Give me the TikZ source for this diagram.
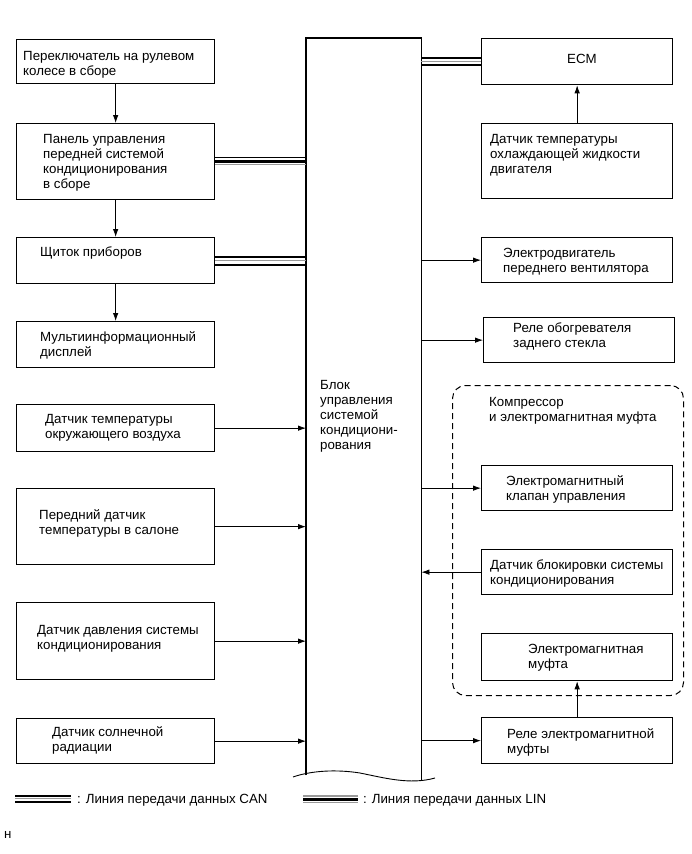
\documentclass[tikz,border=0pt]{standalone}
\usepackage{fontspec}
\setmainfont{Liberation Sans}
\usetikzlibrary{arrows.meta}
\begin{document}
\begin{tikzpicture}[x=1pt,y=-1pt,
  box/.style={draw, line width=1.3pt, inner sep=0pt, anchor=north west},
  txt/.style={inner sep=0pt, anchor=north west, align=left, font=\fontsize{13.3}{15}\selectfont},
  arr/.style={line width=0.8pt, -{Latex[length=8pt,width=5.5pt]}},
  canblack/.style={line width=1.8pt, black},
  cangray/.style={line width=1.1pt, black!40}]
\useasboundingbox (0,0) rectangle (691,854);
% left column
\node[box, minimum width=198pt, minimum height=44pt] (b1) at (16,39) {};
\node[txt] (t1) at (23,49.5) {\strut Переключатель на рулевом\\колесе в сборе};
\node[box, minimum width=198pt, minimum height=76pt] (b2) at (16,123) {};
\node[txt] (t2) at (43,132.5) {\strut Панель управления\\передней системой\\кондиционирования\\в сборе};
\node[box, minimum width=198pt, minimum height=46pt] (b3) at (16,237) {};
\node[txt] (t3) at (40,246) {\strut Щиток приборов};
\node[box, minimum width=198pt, minimum height=46pt] (b4) at (16,321) {};
\node[txt] (t4) at (40,330.5) {\strut Мультиинформационный\\дисплей};
\node[box, minimum width=198pt, minimum height=47pt] (b5) at (16,404) {};
\node[txt] (t5) at (45,412.5) {\strut Датчик температуры\\окружающего воздуха};
\node[box, minimum width=198pt, minimum height=76pt] (b6) at (16,488) {};
\node[txt] (t6) at (39,508.5) {\strut Передний датчик\\температуры в салоне};
\node[box, minimum width=198pt, minimum height=77pt] (b7) at (16,602) {};
\node[txt] (t7) at (37,623.5) {\strut Датчик давления системы\\кондиционирования};
\node[box, minimum width=198pt, minimum height=45pt] (b8) at (16,718) {};
\node[txt] (t8) at (52,725.5) {\strut Датчик солнечной\\радиации};
% central block
\node[inner sep=0pt, anchor=north west, minimum width=115pt, minimum height=737pt] (blk) at (306,38) {};
\draw[line width=1.3pt] (blk.south west) -- (blk.north west) -- (blk.north east) -- ([yshift=-5pt]blk.south east);
\draw[line width=0.9pt] (293,777) .. controls (310,771) and (335,769) .. (360,773) .. controls (385,778) and (410,785) .. (435,778);
\node[txt] (tb) at (320,378.5) {\strut Блок\\управления\\системой\\кондициони-\\рования};
% right column
\node[box, minimum width=191pt, minimum height=46pt] (r1) at (481,38) {};
\node[inner sep=0pt, font=\fontsize{13.3}{15}\selectfont] (t9) at (582,58.5) {ECM};
\node[box, minimum width=191pt, minimum height=75pt] (r2) at (481,123) {};
\node[txt] (t10) at (490,132.5) {\strut Датчик температуры\\охлаждающей жидкости\\двигателя};
\node[box, minimum width=191pt, minimum height=45pt] (r3) at (481,237) {};
\node[txt] (t11) at (503,246.5) {\strut Электродвигатель\\переднего вентилятора};
\node[box, minimum width=191pt, minimum height=45pt] (r4) at (483,317) {};
\node[txt] (t12) at (513,321.5) {\strut Реле обогревателя\\заднего стекла};
\node[draw, dash pattern=on 6pt off 4pt, rounded corners=13pt, line width=1pt, inner sep=0pt, anchor=north west, minimum width=231pt, minimum height=310pt] (cmp) at (452,385) {};
\node[txt] (t13) at (489,395.5) {\strut Компрессор\\и электромагнитная муфта};
\node[box, minimum width=191pt, minimum height=45pt] (r5) at (481,465) {};
\node[txt] (t14) at (506,474.5) {\strut Электромагнитный\\клапан управления};
\node[box, minimum width=191pt, minimum height=45pt] (r6) at (481,549) {};
\node[txt] (t15) at (490,558.5) {\strut Датчик блокировки системы\\кондиционирования};
\node[box, minimum width=191pt, minimum height=47pt] (r7) at (481,633) {};
\node[txt] (t16) at (528,642.5) {\strut Электромагнитная\\муфта};
\node[box, minimum width=191pt, minimum height=46pt] (r8) at (481,717) {};
\node[txt] (t17) at (507,727.5) {\strut Реле электромагнитной\\муфты};
% arrows
\draw[arr] (b1.south) -- (b2.north);
\draw[arr] (b2.south) -- (b3.north);
\draw[arr] (b3.south) -- (b4.north);
\draw[arr] (b5.east) -- (b5.east -| blk.west);
\draw[arr] (b6.east) -- (b6.east -| blk.west);
\draw[arr] (b7.east) -- (b7.east -| blk.west);
\draw[arr] (b8.east) -- (b8.east -| blk.west);
\draw[arr] (r3.west -| blk.east) -- (r3.west);
\draw[arr] (r4.west -| blk.east) -- (r4.west);
\draw[arr] (r5.west -| blk.east) -- (r5.west);
\draw[arr] (r6.west) -- (r6.west -| blk.east);
\draw[arr] (r8.west -| blk.east) -- (r8.west);
\draw[arr] (r2.north) -- (r1.south);
\draw[arr] (r8.north) -- (r7.south);
% LIN line
\draw[line width=1pt] ([yshift=4pt]b2.east) -- ([yshift=4pt]b2.east -| blk.west);
\draw[line width=3.2pt] ([yshift=0.5pt]b2.east) -- ([yshift=0.5pt]b2.east -| blk.west);
\draw[cangray] ([yshift=-3pt]b2.east) -- ([yshift=-3pt]b2.east -| blk.west);
% CAN lines
\draw[canblack] ([yshift=4pt]b3.east) -- ([yshift=4pt]b3.east -| blk.west);
\draw[cangray] (b3.east) -- (b3.east -| blk.west);
\draw[canblack] ([yshift=-4pt]b3.east) -- ([yshift=-4pt]b3.east -| blk.west);
\draw[canblack] ([yshift=3.5pt]blk.east |- r1.west) -- ([yshift=3.5pt]r1.west);
\draw[cangray] (blk.east |- r1.west) -- (r1.west);
\draw[canblack] ([yshift=-3.5pt]blk.east |- r1.west) -- ([yshift=-3.5pt]r1.west);
% legend
\coordinate (ca) at (15,796); \coordinate (cb) at (71,796);
\draw[line width=1.2pt] (ca) -- (cb);
\draw[cangray] ([yshift=-2.7pt]ca) -- ([yshift=-2.7pt]cb);
\draw[line width=2.2pt] ([yshift=-5.7pt]ca) -- ([yshift=-5.7pt]cb);
\node[txt, anchor=base west] (lc) at (77,803.5) {: Линия передачи данных CAN};
\coordinate (la) at (303,796); \coordinate (lb) at (358,796);
\draw[cangray] (la) -- (lb);
\draw[line width=3pt] ([yshift=-3.5pt]la) -- ([yshift=-3.5pt]lb);
\draw[cangray] ([yshift=-6.8pt]la) -- ([yshift=-6.8pt]lb);
\node[txt, anchor=base west] (ll) at (363,803.5) {: Линия передачи данных LIN};
\node[inner sep=0pt, anchor=base west, font=\fontsize{13.3}{15}\selectfont] (nn) at (4,838) {н};
\end{tikzpicture}
\end{document}
